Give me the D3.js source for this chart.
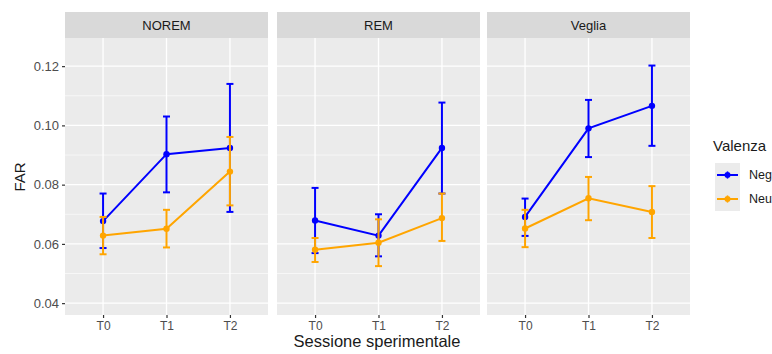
<!DOCTYPE html>
<html><head><meta charset="utf-8">
<script src="https://cdn.jsdelivr.net/npm/d3@7"></script>
<style>body{margin:0;background:#fff}svg{display:block;font-family:"Liberation Sans",Arial,sans-serif}</style>
</head><body><svg id="c" width="772" height="354"></svg>
<script>
const panels = ["NOREM", "REM", "Veglia"];
const sessions = ["T0", "T1", "T2"];
const series = ["Negativa", "Neutra"];
const colors = ["#0000FF", "#FFA500"];
const yTicks = [0.04, 0.06, 0.08, 0.10, 0.12];
const yMinor = [0.05, 0.07, 0.09, 0.11];
// mean, low, high per panel per session
const negMean = [[0.0677, 0.0903, 0.0924], [0.0679, 0.0628, 0.0924], [0.0691, 0.0990, 0.1066]];
const negLow  = [[0.0586, 0.0774, 0.0708], [0.0569, 0.0558, 0.0770], [0.0627, 0.0893, 0.0931]];
const negHigh = [[0.0770, 0.1030, 0.1140], [0.0789, 0.0700, 0.1077], [0.0753, 0.1086, 0.1202]];
const neuMean = [[0.0628, 0.0651, 0.0844], [0.0580, 0.0604, 0.0687], [0.0652, 0.0754, 0.0708]];
const neuLow  = [[0.0565, 0.0588, 0.0730], [0.0539, 0.0525, 0.0610], [0.0589, 0.0680, 0.0620]];
const neuHigh = [[0.0691, 0.0715, 0.0961], [0.0620, 0.0683, 0.0770], [0.0715, 0.0826, 0.0795]];

const svg = d3.select("#c");
const panelX = [65, 277, 487];
const panelW = 203;
const pTop = 38, pBottom = 315, stripTop = 12;
const y = d3.scaleLinear().domain([0.036, 0.1295]).range([pBottom, pTop]);
const means = [negMean, neuMean], lows = [negLow, neuLow], highs = [negHigh, neuHigh];

panels.forEach((p, pi) => {
  const x0 = panelX[pi];
  const x = d3.scalePoint().domain(sessions).range([x0, x0 + panelW]).padding(0.6);
  const g = svg.append("g");
  g.append("rect").attr("x", x0).attr("y", stripTop).attr("width", panelW).attr("height", pTop - stripTop).attr("fill", "#d9d9d9");
  g.append("text").attr("x", x0 + panelW / 2).attr("y", 30).attr("text-anchor", "middle")
    .attr("font-size", 13).attr("fill", "#1a1a1a").text(p);
  g.append("rect").attr("x", x0).attr("y", pTop).attr("width", panelW).attr("height", pBottom - pTop).attr("fill", "#ebebeb");
  yMinor.forEach(v => g.append("line").attr("x1", x0).attr("x2", x0 + panelW).attr("y1", y(v)).attr("y2", y(v)).attr("stroke", "#fff").attr("stroke-width", 0.6));
  yTicks.forEach(v => g.append("line").attr("x1", x0).attr("x2", x0 + panelW).attr("y1", y(v)).attr("y2", y(v)).attr("stroke", "#fff").attr("stroke-width", 1.3));
  sessions.forEach(s => g.append("line").attr("x1", x(s)).attr("x2", x(s)).attr("y1", pTop).attr("y2", pBottom).attr("stroke", "#fff").attr("stroke-width", 1.3));
  const ax = g.append("g").attr("transform", `translate(0,${pBottom})`).call(d3.axisBottom(x).tickSize(3).tickPadding(3));
  ax.select(".domain").remove();
  ax.selectAll("line").attr("stroke", "#333").attr("stroke-width", 1.2);
  ax.selectAll("text").attr("font-size", 12).attr("fill", "#4d4d4d").attr("font-family", "Liberation Sans, Arial, sans-serif");
  if (pi === 0) {
    const ay = g.append("g").attr("transform", `translate(${x0},0)`).call(d3.axisLeft(y).tickValues(yTicks).tickFormat(d3.format(".2f")).tickSize(3).tickPadding(3));
    ay.select(".domain").remove();
    ay.selectAll("line").attr("stroke", "#333").attr("stroke-width", 1.2);
    ay.selectAll("text").attr("font-size", 13).attr("fill", "#4d4d4d").attr("font-family", "Liberation Sans, Arial, sans-serif");
  }
  series.forEach((s, si) => {
    const m = means[si][pi], lo = lows[si][pi], hi = highs[si][pi];
    const col = colors[si];
    const sg = g.append("g");
    sessions.forEach((t, ti) => {
      const cx = x(t);
      sg.append("line").attr("x1", cx).attr("x2", cx).attr("y1", y(lo[ti])).attr("y2", y(hi[ti])).attr("stroke", col).attr("stroke-width", 2);
      [lo[ti], hi[ti]].forEach(v => sg.append("line").attr("x1", cx - 3.5).attr("x2", cx + 3.5).attr("y1", y(v)).attr("y2", y(v)).attr("stroke", col).attr("stroke-width", 2));
    });
    sg.append("path").datum(m).attr("fill", "none").attr("stroke", col).attr("stroke-width", 2)
      .attr("d", d3.line().x((d, i) => x(sessions[i])).y(d => y(d)));
    sg.selectAll("circle").data(m).join("circle").attr("cx", (d, i) => x(sessions[i])).attr("cy", d => y(d)).attr("r", 3.2).attr("fill", col);
  });
});

svg.append("text").attr("transform", "translate(25,177) rotate(-90)").attr("text-anchor", "middle").attr("font-size", 15).attr("fill", "#1a1a1a").text("FAR");
svg.append("text").attr("x", 377).attr("y", 347).attr("text-anchor", "middle").attr("font-size", 16.5).attr("fill", "#1a1a1a").text("Sessione sperimentale");

const lg = svg.append("g");
lg.append("text").attr("x", 713).attr("y", 151).attr("font-size", 15).attr("fill", "#1a1a1a").text("Valenza");
series.forEach((s, si) => {
  const ky = 163 + si * 24;
  lg.append("rect").attr("x", 715).attr("y", ky).attr("width", 25).attr("height", 24).attr("fill", "#ebebeb");
  lg.append("line").attr("x1", 717).attr("x2", 738).attr("y1", ky + 12).attr("y2", ky + 12).attr("stroke", colors[si]).attr("stroke-width", 2);
  lg.append("line").attr("x1", 727.5).attr("x2", 727.5).attr("y1", ky + 8).attr("y2", ky + 16).attr("stroke", colors[si]).attr("stroke-width", 1.5).attr("opacity", 0.6);
  lg.append("circle").attr("cx", 727.5).attr("cy", ky + 12).attr("r", 3).attr("fill", colors[si]);
  lg.append("text").attr("x", 749).attr("y", ky + 16).attr("font-size", 12.5).attr("fill", "#1a1a1a").text(s);
});
</script></body></html>
